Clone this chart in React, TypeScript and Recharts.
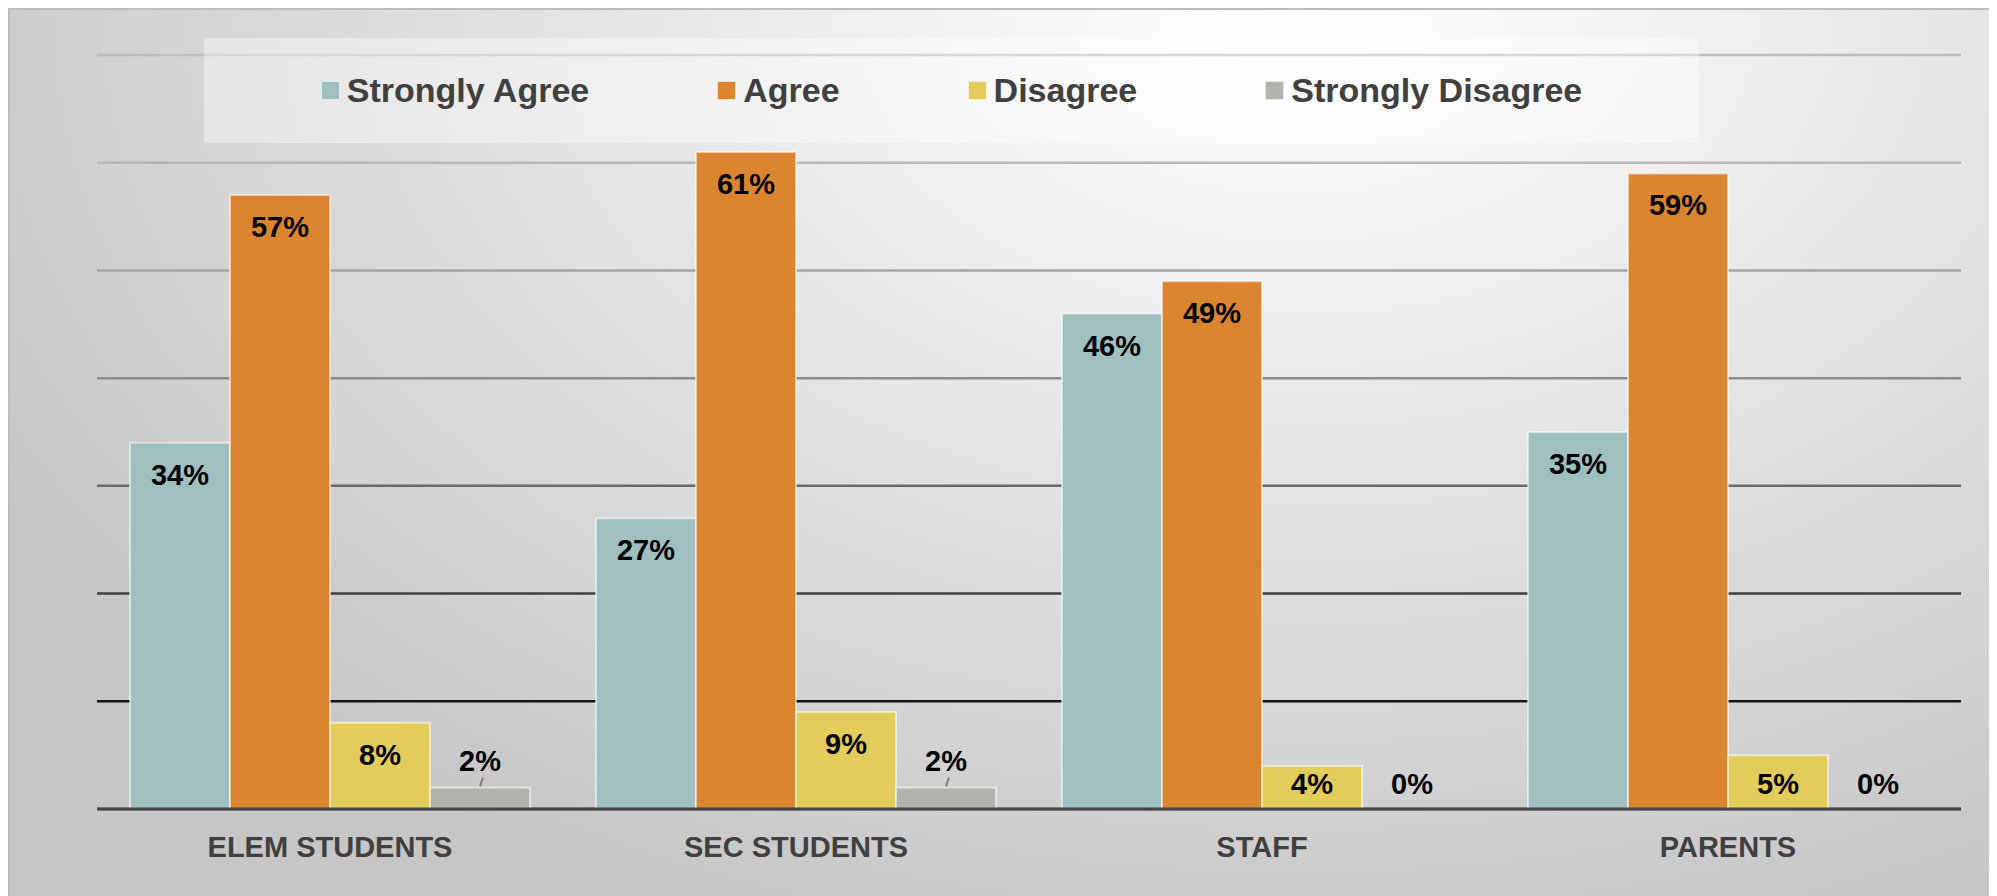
import React from "react";
import {
  BarChart,
  Bar,
  Cell,
  XAxis,
  YAxis,
  CartesianGrid,
  Legend,
  LabelList,
} from "recharts";

const categories = ["ELEM STUDENTS", "SEC STUDENTS", "STAFF", "PARENTS"];
const stronglyAgree = [34, 27, 46, 35];
const agree = [57, 61, 49, 59];
const disagree = [8, 9, 4, 5];
const stronglyDisagree = [2, 2, 0, 0];
const yTicks = [0, 10, 20, 30, 40, 50, 60, 70];

const series = [
  { key: "sa", name: "Strongly Agree", color: "#9fc0bf", values: stronglyAgree },
  { key: "a", name: "Agree", color: "#db8530", values: agree },
  { key: "d", name: "Disagree", color: "#e3cc5a", values: disagree },
  { key: "sd", name: "Strongly Disagree", color: "#b3b3ae", values: stronglyDisagree },
];

const data = categories.map((name, i) => ({
  name,
  sa: stronglyAgree[i],
  a: agree[i],
  d: disagree[i],
  sd: stronglyDisagree[i],
}));

const FONT = '"Liberation Sans", Arial, sans-serif';

// grid line shade per tick (0% .. 70%), darker toward the bottom
const gridShades = ["#454545", "#151515", "#3f3f3f", "#6a6a6a", "#8c8c8c", "#a5a5a5", "#b8b8b8", "#bdbdbd"];

const W = 1979;
const H = 890;
const M = { top: 45, right: 28, left: 87, bottom: 21 };
const X_AXIS_H = 70;
const plotTop = M.top;
const plotBottom = H - M.bottom - X_AXIS_H;

const gridLine = (props: any) => {
  const { x1, x2, y1 } = props;
  const v = Math.round(((plotBottom - y1) / (plotBottom - plotTop)) * 70 / 10);
  const stroke = gridShades[Math.max(0, Math.min(7, v))];
  return <line key={props.key} x1={x1} x2={x2} y1={y1} y2={y1} stroke={stroke} strokeWidth={2.5} />;
};

const renderLabel = (props: any) => {
  const { x, y, width, height, value } = props;
  const cx = x + width / 2;
  const bottom = y + height;
  const textStyle = { fontFamily: FONT, fontSize: 29, fontWeight: 700, fill: "#000" };
  if (value > 0 && height < 30) {
    // short bar: label sits above with a small leader line
    return (
      <g>
        <line x1={cx + 3} y1={y - 10} x2={cx} y2={y - 1} stroke="#7f7f7f" strokeWidth={2} />
        <text x={cx} y={y - 26} textAnchor="middle" dominantBaseline="central" {...textStyle}>
          {value}%
        </text>
      </g>
    );
  }
  const cy = Math.min(y + 32, bottom - 25);
  return (
    <text x={cx} y={cy} textAnchor="middle" dominantBaseline="central" {...textStyle}>
      {value}%
    </text>
  );
};

const renderTick = (props: any) => {
  const { x, y, payload } = props;
  return (
    <text
      x={x}
      y={y + 36}
      textAnchor="middle"
      dominantBaseline="central"
      fontFamily={FONT}
      fontSize={29}
      fontWeight={700}
      fill="#404040"
    >
      {payload.value}
    </text>
  );
};

const renderLegend = () => (
  <div
    style={{
      width: "100%",
      height: "100%",
      background: "rgba(255,255,255,0.4)",
      display: "flex",
      alignItems: "center",
      justifyContent: "center",
      gap: 128,
      fontFamily: FONT,
      fontSize: 34,
      fontWeight: 700,
      color: "#404040",
    }}
  >
    {series.map((s) => (
      <div key={s.key} style={{ display: "flex", alignItems: "center", gap: 7 }}>
        <span
          style={{
            display: "inline-block",
            width: 17,
            height: 17,
            background: s.color,
            border: "1px solid rgba(255,255,255,0.7)",
          }}
        />
        <span>{s.name}</span>
      </div>
    ))}
  </div>
);

export default function App() {
  return (
    <div
      style={{
        width: W,
        height: H,
        border: "2px solid #bdbdbd",
        borderBottom: "none",
        background:
          "radial-gradient(ellipse 75% 110% at 65% 0%, #ffffff 0%, #f2f2f2 25%, #e0e0e0 55%, #cfcfcf 85%, #c6c6c6 100%)",
      }}
    >
      <BarChart width={W} height={H} data={data} margin={M} barCategoryGap={33} barGap={0}>
        <CartesianGrid vertical={false} horizontal={gridLine} />
        <XAxis
          dataKey="name"
          height={X_AXIS_H}
          axisLine={{ stroke: "#454545", strokeWidth: 3 }}
          tickLine={false}
          tickSize={0}
          tick={renderTick}
          interval={0}
        />
        <YAxis hide domain={[0, 70]} ticks={yTicks} />
        <Legend
          layout="horizontal"
          verticalAlign="middle"
          align="center"
          content={renderLegend}
          wrapperStyle={{ top: 28, left: 194, width: 1495, height: 105 }}
        />
        {series.map((s) => (
          <Bar
            key={s.key}
            dataKey={s.key}
            name={s.name}
            fill={s.color}
            stroke="rgba(255,255,255,0.55)"
            strokeWidth={2}
            minPointSize={1}
            isAnimationActive={false}
          >
            {s.values.map((v, i) => (
              <Cell
                key={`cell-${i}`}
                fill={v === 0 ? "transparent" : s.color}
                stroke={v === 0 ? "none" : "rgba(255,255,255,0.55)"}
              />
            ))}
            <LabelList dataKey={s.key} content={renderLabel} />
          </Bar>
        ))}
      </BarChart>
    </div>
  );
}
